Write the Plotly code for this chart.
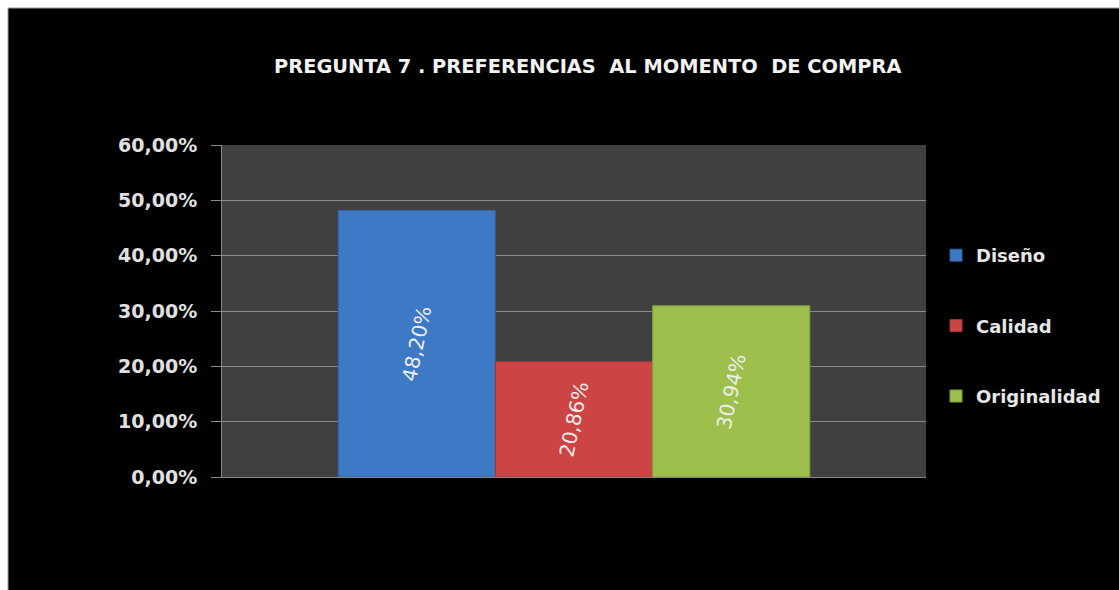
import plotly.graph_objects as go

# Survey question 7: purchase preferences
title_text = "PREGUNTA 7 . PREFERENCIAS  AL MOMENTO  DE COMPRA"
series_names = ["Diseño", "Calidad", "Originalidad"]
series_values = [0.4820, 0.2086, 0.3094]
series_colors = ["#3E79C6", "#CD4444", "#9CC04B"]
series_edges = ["#2F5F9E", "#A33434", "#7E9E3A"]
category = [""]
tick_values = [0, 0.1, 0.2, 0.3, 0.4, 0.5, 0.6]

W, H = 1119, 590
L, R, T, B = 222, 193, 145, 113
pw, ph = W - L - R, H - T - B

fig = go.Figure()
for name, val, col, edge in zip(series_names, series_values, series_colors, series_edges):
    fig.add_trace(go.Bar(
        x=category, y=[val], name=name,
        marker=dict(color=col, line=dict(color=edge, width=1)),
        texttemplate="%{y:.2%}", textposition="inside",
        insidetextanchor="middle", textangle=-78,
        textfont=dict(family="DejaVu Sans", size=20, color="#EDEDED"),
        legendgroup=name,
    ))

def px_x(p):
    return (p - L) / pw

def px_y(p):
    return (H - B - p) / ph

fig.update_layout(
    width=W, height=H,
    margin=dict(l=L, r=R, t=T, b=B),
    paper_bgcolor="black",
    plot_bgcolor="#404040",
    separators=", ",
    barmode="group", bargap=0.33, bargroupgap=0,
    showlegend=True,
    legend=dict(
        x=px_x(936), xanchor="left", y=px_y(326), yanchor="middle",
        font=dict(family="DejaVu Sans", size=18, color="#E6E6E6", weight="bold"),
        bgcolor="rgba(0,0,0,0)", tracegroupgap=44, itemclick=False,
    ),
    annotations=[dict(
        text=title_text, showarrow=False,
        xref="paper", yref="paper", x=px_x(587), y=px_y(67),
        xanchor="center", yanchor="middle",
        font=dict(family="DejaVu Sans", size=19.4, color="#F2F2F2", weight="bold"),
    )],
    shapes=[
        dict(type="rect", xref="paper", yref="paper", layer="above",
             x0=-1, x1=2, y0=px_y(8), y1=2, fillcolor="white", line=dict(width=0)),
        dict(type="rect", xref="paper", yref="paper", layer="above",
             x0=-1, x1=px_x(8), y0=-1, y1=2, fillcolor="white", line=dict(width=0)),
        dict(type="line", xref="paper", yref="paper", layer="above",
             x0=px_x(8), x1=2, y0=px_y(8), y1=px_y(8), line=dict(color="#A0A0A0", width=1)),
        dict(type="line", xref="paper", yref="paper", layer="above",
             x0=px_x(8), x1=px_x(8), y0=-1, y1=px_y(8), line=dict(color="#A0A0A0", width=1)),
    ],
)

fig.update_yaxes(
    range=[0, 0.6], tickvals=tick_values, tickformat=".2%",
    showgrid=True, gridcolor="#8A8A8A", gridwidth=1,
    showline=True, linecolor="#8A8A8A", linewidth=1,
    ticks="outside", ticklen=10, tickcolor="#8A8A8A", ticklabelstandoff=10,
    tickfont=dict(family="DejaVu Sans", size=19, color="#E0E0E0", weight="bold"),
    zeroline=False, fixedrange=True,
)
fig.update_xaxes(
    showticklabels=False, ticks="", showline=True, linecolor="#8A8A8A",
    showgrid=False, fixedrange=True,
)

fig.write_html("out.html", config={"displayModeBar": False})
